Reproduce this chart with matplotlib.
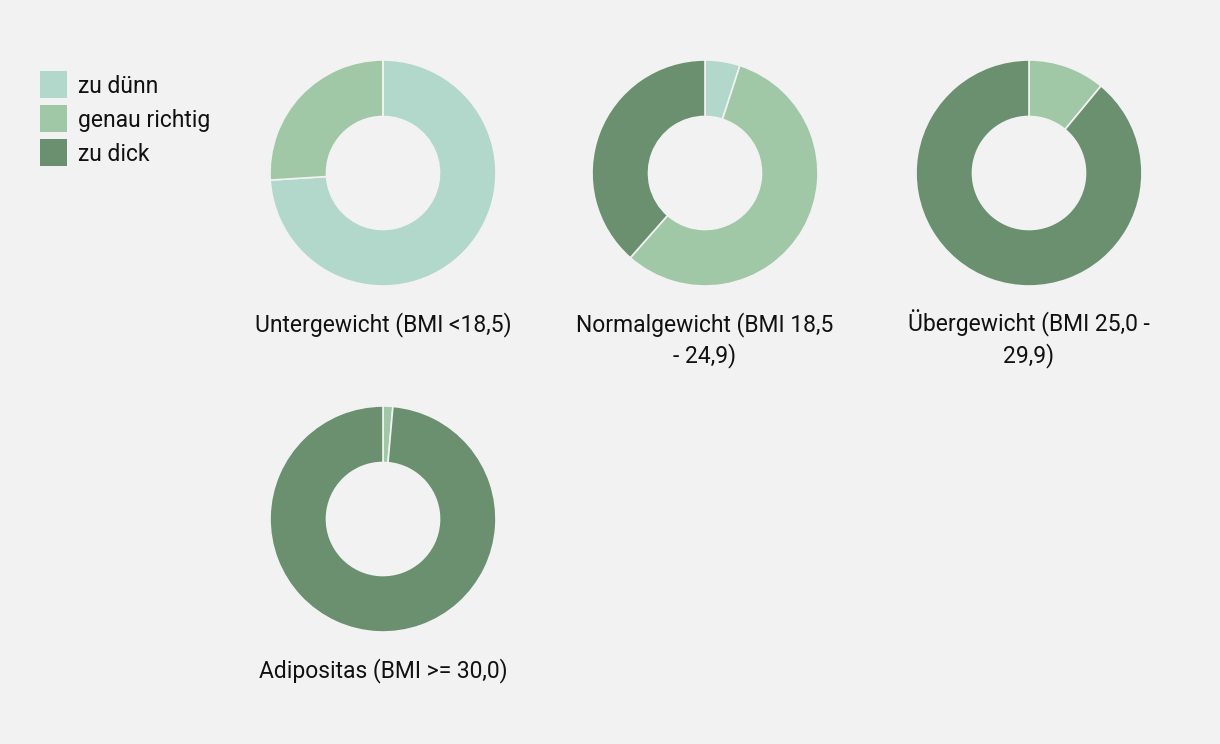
import matplotlib.pyplot as plt
import matplotlib.patches as mpatches

# Data (percent of each BMI group)
categories = ["zu dünn", "genau richtig", "zu dick"]
groups = [
    "Untergewicht (BMI <18,5)",
    "Normalgewicht (BMI 18,5\n- 24,9)",
    "Übergewicht (BMI 25,0 -\n29,9)",
    "Adipositas (BMI >= 30,0)",
]
zu_duenn = [74.0, 5.0, 0.0, 0.0]
genau_richtig = [26.0, 56.5, 11.0, 1.4]
zu_dick = [0.0, 38.5, 89.0, 98.6]

colors = ["#b2d7cb", "#a0c7a6", "#6a9070"]
bg = "#f2f2f2"
text_color = "#111111"

plt.rcParams["font.family"] = ["Roboto", "DejaVu Sans"]

W, H = 1220, 744
fig = plt.figure(figsize=(W / 100, H / 100), dpi=100)
fig.patch.set_facecolor(bg)

# Layout constants (pixels)
centers = [(383, 173), (705, 173), (1029, 173), (383, 519)]
r = 113
fs = 16.5

for i, (cx, cy) in enumerate(centers):
    ax = fig.add_axes([(cx - r) / W, 1 - (cy + r) / H, 2 * r / W, 2 * r / H])
    ax.set_facecolor(bg)
    vals = [zu_duenn[i], genau_richtig[i], zu_dick[i]]
    ax.pie(
        vals,
        colors=colors,
        startangle=90,
        counterclock=False,
        radius=1,
        wedgeprops=dict(width=0.5, edgecolor=bg, linewidth=1.2),
    )
    ax.set_xlim(-1, 1)
    ax.set_ylim(-1, 1)
    ax.set_aspect("equal")
    # each title line on its own baseline
    for k, line in enumerate(groups[i].split("\n")):
        fig.text(
            cx / W,
            1 - (cy + 158 + k * 31) / H,
            line,
            ha="center",
            va="baseline",
            fontsize=fs,
            color=text_color,
        )

# Legend
for j, cat in enumerate(categories):
    y = 71 + j * 34
    fig.patches.append(
        mpatches.Rectangle(
            (40 / W, 1 - (y + 27) / H),
            27 / W,
            27 / H,
            transform=fig.transFigure,
            facecolor=colors[j],
            edgecolor="none",
        )
    )
    fig.text(
        78 / W,
        1 - (y + 22) / H,
        cat,
        ha="left",
        va="baseline",
        fontsize=fs,
        color=text_color,
    )

fig.savefig("out.png", dpi=100, facecolor=bg)
